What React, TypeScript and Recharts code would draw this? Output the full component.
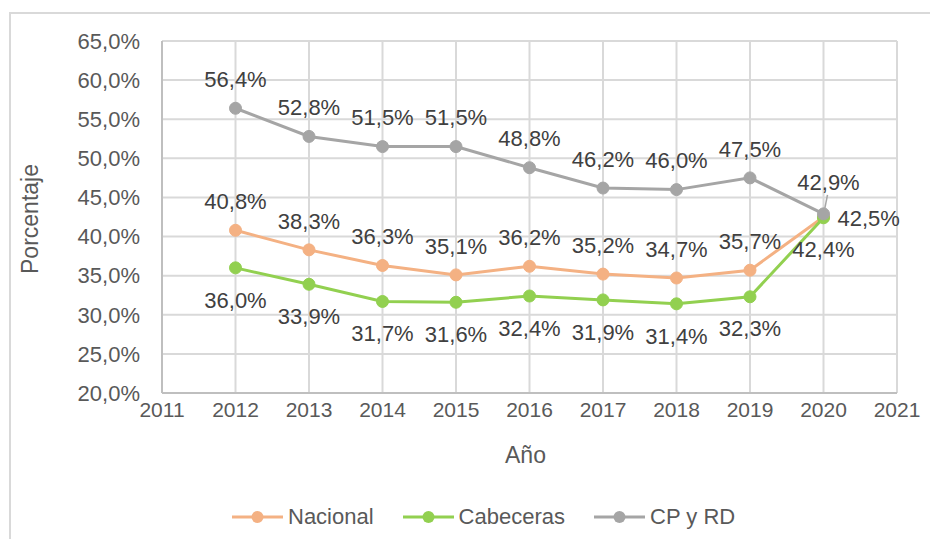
import { LineChart, Line, XAxis, YAxis, CartesianGrid, LabelList, Legend } from "recharts";

const years = [2012, 2013, 2014, 2015, 2016, 2017, 2018, 2019, 2020];
const nacional = [40.8, 38.3, 36.3, 35.1, 36.2, 35.2, 34.7, 35.7, 42.5];
const cabeceras = [36.0, 33.9, 31.7, 31.6, 32.4, 31.9, 31.4, 32.3, 42.4];
const cpRd = [56.4, 52.8, 51.5, 51.5, 48.8, 46.2, 46.0, 47.5, 42.9];

const xTicks = [2011, 2012, 2013, 2014, 2015, 2016, 2017, 2018, 2019, 2020, 2021];
const yTicks = [20, 25, 30, 35, 40, 45, 50, 55, 60, 65];

const series = [
	{ key: "nacional", name: "Nacional", color: "#F4B183" },
	{ key: "cabeceras", name: "Cabeceras", color: "#92D050" },
	{ key: "cpRd", name: "CP y RD", color: "#A5A5A5" },
];

const data = years.map((year, i) => ({
	year,
	nacional: nacional[i],
	cabeceras: cabeceras[i],
	cpRd: cpRd[i],
}));

const FONT = "'Liberation Sans', Arial, sans-serif";
const TICK = "#595959";
const LABEL = "#404040";
const last = years.length - 1;

const pct = (v: number) => `${v.toFixed(1).replace(".", ",")}%`;

const labelText = (x: number, y: number, value: number, anchor = "middle") => (
	<text x={x} y={y} dy="0.35em" textAnchor={anchor} fill={LABEL} fontSize={22} fontFamily={FONT}>
		{pct(value)}
	</text>
);

const NacionalLabel = (props: any) => {
	const { x, y, value, index } = props;
	if (index === last) return labelText(x + 14, y + 1, value, "start");
	return labelText(x, y - 29, value);
};

const CabecerasLabel = (props: any) => {
	const { x, y, value } = props;
	return labelText(x, y + 32, value);
};

const CpLabel = (props: any) => {
	const { x, y, value, index } = props;
	if (index === last) {
		return (
			<g>
				<line x1={x + 1} y1={y - 4} x2={x + 4} y2={y - 19} stroke="#A5A5A5" strokeWidth={1.5} />
				{labelText(x + 5, y - 32, value)}
			</g>
		);
	}
	return labelText(x, y - 29, value);
};

const labelFor: Record<string, (p: any) => any> = {
	nacional: NacionalLabel,
	cabeceras: CabecerasLabel,
	cpRd: CpLabel,
};

const YTitle = ({ viewBox }: any) => {
	const cx = viewBox.x + 20;
	const cy = viewBox.y + viewBox.height / 2 + 2;
	return (
		<text x={cx} y={cy} transform={`rotate(-90 ${cx} ${cy})`} textAnchor="middle" dy="0.35em" fill={TICK} fontSize={23} fontFamily={FONT}>
			Porcentaje
		</text>
	);
};

const XTitle = ({ viewBox }: any) => {
	const cx = viewBox.x + viewBox.width / 2 - 4;
	return (
		<text x={cx} y={455} textAnchor="middle" dy="0.35em" fill={TICK} fontSize={23} fontFamily={FONT}>
			Año
		</text>
	);
};

const LegendContent = () => (
	<div style={{ display: "flex", paddingLeft: 232, gap: 29, fontFamily: FONT, fontSize: 22, color: TICK, lineHeight: "26px" }}>
		{series.map((s) => (
			<div key={s.key} style={{ display: "flex", alignItems: "center" }}>
				<svg width={51} height={14} style={{ marginRight: 5 }}>
					<line x1={0} y1={7} x2={51} y2={7} stroke={s.color} strokeWidth={3} />
					<circle cx={25.5} cy={7} r={6} fill={s.color} />
				</svg>
				<span>{s.name}</span>
			</div>
		))}
	</div>
);

export default function App() {
	return (
		<div style={{ position: "relative", width: 938, height: 547, margin: -8, overflow: "hidden", background: "#fff" }}>
			<div style={{ position: "absolute", left: 9, top: 12, width: 940, height: 560, border: "2px solid #D9D9D9" }} />
			<div style={{ position: "absolute", left: 0, top: 0 }}>
				<LineChart width={938} height={547} data={data} margin={{ top: 41, right: 41, left: 10, bottom: 79 }}>
					<CartesianGrid stroke="#D9D9D9" strokeWidth={2} />
					<XAxis
						dataKey="year"
						type="number"
						domain={[2011, 2021]}
						ticks={xTicks}
						interval={0}
						height={75}
						tickLine={false}
						tickSize={0}
						tickMargin={9}
						axisLine={{ stroke: "#BFBFBF", strokeWidth: 2 }}
						tick={{ fill: TICK, fontSize: 21, fontFamily: FONT }}
						label={{ content: XTitle }}
					/>
					<YAxis
						type="number"
						domain={[20, 65]}
						ticks={yTicks}
						interval={0}
						width={152}
						tickLine={false}
						tickSize={0}
						tickMargin={22}
						axisLine={{ stroke: "#BFBFBF", strokeWidth: 2 }}
						tickFormatter={(v: number) => pct(v)}
						tick={{ fill: TICK, fontSize: 22, fontFamily: FONT }}
						label={{ content: YTitle }}
					/>
					{series.map((s) => (
						<Line
							key={s.key}
							dataKey={s.key}
							name={s.name}
							stroke={s.color}
							strokeWidth={3}
							dot={{ r: 6, fill: s.color, stroke: s.color, strokeWidth: 1 }}
							activeDot={false}
							isAnimationActive={false}
						>
							<LabelList dataKey={s.key} content={labelFor[s.key]} />
						</Line>
					))}
					<Legend
						layout="horizontal"
						verticalAlign="middle"
						align="center"
						content={LegendContent}
						wrapperStyle={{ position: "absolute", top: 504, left: 0, width: 938 }}
					/>
				</LineChart>
			</div>
		</div>
	);
}
